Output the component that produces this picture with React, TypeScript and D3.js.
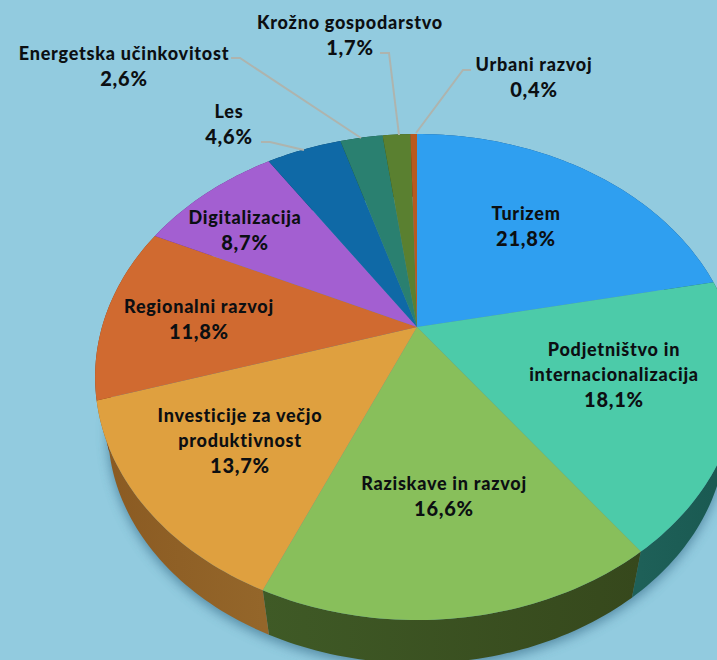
import React from "react";
import * as d3 from "d3";

const names = ["Turizem","Podjetništvo in internacionalizacija","Raziskave in razvoj","Investicije za večjo produktivnost","Regionalni razvoj","Digitalizacija","Les","Energetska učinkovitost","Krožno gospodarstvo","Urbani razvoj"];
const values = [21.8,18.1,16.6,13.7,11.8,8.7,4.6,2.6,1.7,0.4];
const topColors = ["#2f9ff0","#4ccba9","#88bf5b","#dfa03f","#d06a30","#a35fd1","#0f69a6","#2a8070","#5a8030","#b85a20"];
const sideColors = ["#155080","#1e6058","#3f5a26","#8a5a22","#7a3c18","#5a3078","#083a5c","#144038","#304818","#602c10"];
const sideDark = ["#155080","#1a5a52","#36481c","#94662a","#7a3c18","#5a3078","#083a5c","#144038","#304818","#602c10"];
const labelLines = [["Turizem"],["Podjetništvo in","internacionalizacija"],["Raziskave in razvoj"],["Investicije za večjo","produktivnost"],["Regionalni razvoj"],["Digitalizacija"],["Les"],["Energetska učinkovitost"],["Krožno gospodarstvo"],["Urbani razvoj"]];
const labelAnchors: [number, number][] = [[526,214],[614,350],[444,484],[240,416],[199,307],[245,218],[229,112],[124,54],[350,23],[534,65]];
const leaders: [number,number][][] = [[],[],[],[],[],[],[[261,142],[270,142],[304,150]],[[231,58],[240,58],[361,138]],[[380,53],[389,53],[399,135]],[[471,70],[463,70],[416,133]]];

const W = 717, H = 660;
const CX = 417, CY = 327, A = 315, B = 232.7, K = 0.2058;
const project = (t: number): [number, number] => {
  const u = Math.sin(t), v = -Math.cos(t), d = 1 - K * v;
  return [CX + (A * u) / d, CY + (B * v) / d];
};
const lower = ([x, y]: [number, number]): [number, number] => [CX + 0.96 * (x - CX), CY + 0.96 * (y - CY) + 55];
const fmt = (v: number) => v.toFixed(1).replace(".", ",") + "%";

const arcs = d3.pie<number>().sort(null)(values);
const rim = (a0: number, a1: number) => {
  const n = Math.max(2, Math.ceil((a1 - a0) / 0.02));
  return d3.range(n + 1).map((i) => project(a0 + ((a1 - a0) * i) / n));
};
const line = d3.line<[number, number]>();

export default function App() {
  const all = rim(0, Math.PI * 2);
  return (
    <svg width={W} height={H} viewBox={`0 0 ${W} ${H}`} style={{ position: "absolute", left: 0, top: 0, display: "block", background: "#92cbdf" }}>
      <defs>
        <filter id="shadow" x="-20%" y="-20%" width="140%" height="140%">
          <feGaussianBlur stdDeviation="6" />
        </filter>
        {arcs.map((a, i) => {
          const pts = rim(a.startAngle, a.endAngle);
          return (
            <linearGradient key={i} id={`side${i}`} gradientUnits="userSpaceOnUse" x1={pts[0][0]} y1={0} x2={pts[pts.length - 1][0] + 0.01} y2={0}>
              <stop offset="0" stopColor={sideDark[i]} />
              <stop offset="1" stopColor={sideColors[i]} />
            </linearGradient>
          );
        })}
      </defs>
      <path d={line(all.map(lower).map(([x, y]) => [x, y + 4] as [number, number])) + "Z"} fill="#3f7490" opacity={0.75} filter="url(#shadow)" />
      {arcs.map((a, i) => {
        const pts = rim(a.startAngle, a.endAngle);
        return <path key={i} d={line([...pts, ...pts.map(lower).reverse()]) + "Z"} fill={`url(#side${i})`} />;
      })}
      {arcs.map((a, i) => (
        <path key={i} d={line([[CX, CY], ...rim(a.startAngle, a.endAngle)]) + "Z"} fill={topColors[i]} />
      ))}
      {leaders.map((l, i) => l.length ? <path key={i} d={line(l)!} fill="none" stroke="#aeb4ae" strokeWidth={2} /> : null)}
      <g fontFamily="Lato" fontWeight={900} fontSize={18} fill="#0c0f12" textAnchor="middle" letterSpacing={0.75}>
        {names.map((n, i) => {
          const [x, y] = labelAnchors[i];
          const ls = labelLines[i];
          return (
            <text key={n} x={x} y={y + 6}>
              {ls.map((t, j) => <tspan key={j} x={x} dy={j ? 25 : 0}>{t}</tspan>)}
              <tspan x={x} dy={25.5} fontSize={20}>{fmt(values[i])}</tspan>
            </text>
          );
        })}
      </g>
    </svg>
  );
}
